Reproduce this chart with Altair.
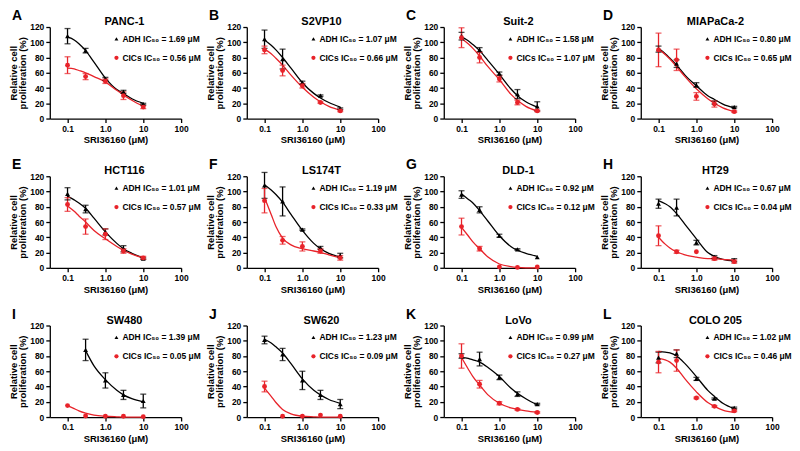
import math
import altair as alt
import pandas as pd

FONT = "Liberation Sans, Arial, sans-serif"
RED = "#e8232a"

DOSES = [0.1, 0.3, 1.0, 3.0, 10.0]
CURVE_X = [0.1, 0.15, 0.2, 0.3, 0.5, 1.0, 2.0, 3.0, 5.0, 10.0]
X_TICKS = [0.1, 1, 10, 100]
X_TICK_LABELS = ["0.1", "1.0", "10", "100"]
Y_TICKS = [0, 20, 40, 60, 80, 100, 120]

LETTERS = ["A", "B", "C", "D", "E", "F", "G", "H", "I", "J", "K", "L"]
CELL_LINES = ["PANC-1", "S2VP10", "Suit-2", "MIAPaCa-2", "HCT116", "LS174T",
              "DLD-1", "HT29", "SW480", "SW620", "LoVo", "COLO 205"]
ADH_IC50 = ["1.69", "1.07", "1.58", "0.80", "1.01", "1.19",
            "0.92", "0.67", "1.39", "1.23", "0.99", "1.02"]
CICS_IC50 = ["0.56", "0.66", "1.07", "0.65", "0.57", "0.33",
             "0.12", "0.04", "0.05", "0.09", "0.27", "0.46"]

# measured points at DOSES (mean, error)
ADH_MEAN = [
    [108, 89, 52, 35, 19], [104, 78, 47, 30, 13], [108, 90, 59, 32, 16], [91, 72, 44, 21, 15],
    [97, 77, 47, 25, 12], [108, 87, 50, 26, 16], [96, 76, 42, 24, 14], [84, 79, 33, 14, 10],
    [None, 88, 48, 29, 21], [101, 82, 48, 29, 17], [80, 76, 52, 30, 17], [78, 83, 50, 24, 12],
]
ADH_ERR = [
    [10, 3, 2, 2, 1], [12, 13, 2, 1, 1], [5, 3, 2, 6, 6], [4, 5, 3, 2, 1],
    [8, 5, 4, 4, 1], [17, 19, 1, 2, 3], [5, 4, 2, 1, 0], [6, 11, 3, 2, 2],
    [None, 14, 10, 6, 9], [5, 8, 12, 6, 6], [3, 9, 3, 3, 1], [7, 5, 2, 1, 1],
]
CICS_MEAN = [
    [70, 55, 49, 30, 15], [90, 63, 43, 21, 10], [106, 80, 52, 21, 10], [90, 77, 29, 19, 9],
    [83, 54, 44, 22, 13], [88, 36, 28, 22, 13], [54, 25, 1, 0.5, 1], [42, 21, 21, 12, 8],
    [15, 1.3, 1, 1, 0.5], [40, 1, 1, 2.5, 1], [80, 43, 18, 10, 6], [72, 74, 25, 14, 8],
]
CICS_ERR = [
    [11, 4, 3, 5, 2], [5, 7, 3, 1, 1], [13, 7, 4, 3, 1], [22, 14, 5, 4, 1],
    [9, 10, 7, 3, 2], [16, 5, 6, 3, 3], [11, 3, 0, 0, 0], [13, 2, 0, 2, 2],
    [0, 0, 0, 0, 0], [7, 0, 0, 0, 0], [16, 5, 2, 1, 1], [14, 14, 1, 1, 1],
]

# fitted curves read at CURVE_X
ADH_FIT = [
    [107, 103, 98, 89, 74, 53, 38, 33, 26, 20],
    [103, 96, 90, 80, 66, 47, 33, 27, 21, 15],
    [107, 102, 97, 89, 76, 58, 39, 30, 22, 15],
    [92, 85, 79, 70, 57, 43, 30, 25, 19, 14],
    [94, 89, 85, 78, 65, 47, 32, 25, 19, 13],
    [109, 102, 96, 86, 70, 49, 32, 25, 19, 14],
    [97, 90, 85, 75, 61, 42, 28, 23, 19, 15],
    [88, 84, 80, 71, 57, 38, 20, 15, 11, 9],
    [None, None, None, 87, 67, 49, 35, 29, 24, 20],
    [102, 97, 92, 84, 70, 50, 35, 29, 23, 18],
    [78, 77, 75, 72, 65, 53, 38, 31, 24, 16],
    [86, 85, 84, 80, 70, 53, 35, 27, 18, 11],
]
CICS_FIT = [
    [66, 65, 63, 60, 55, 48, 37, 31, 24, 16],
    [91, 85, 79, 70, 57, 41, 28, 22, 16, 11],
    [105, 98, 92, 82, 68, 51, 32, 24, 16, 10],
    [91, 84, 78, 68, 55, 39, 26, 20, 14, 9],
    [81, 74, 68, 60, 49, 38, 28, 23, 18, 13],
    [92, 70, 54, 39, 30, 25, 22, 20, 17, 13],
    [53, 42, 34, 25, 14, 5, 1.5, 0.5, 0, 0],
    [40, 31, 26, 21, 17, 14, 12, 12, 11, 10],
    [15, 11, 8, 5, 2.5, 1, 0.3, 0, 0, 0],
    [38, 27, 19, 10, 4, 1, 0.3, 0, 0, 0],
    [78, 63, 53, 42, 29, 18, 12, 10, 8, 6],
    [77, 75, 72, 64, 50, 33, 19, 14, 9, 6],
]

SERIES = ["ADH", "CICs"]
COLORS = ["#000000", RED]
SHAPES = ["triangle-up", "circle"]

# label expression for x ticks built from the tick lists
expr = "'" + X_TICK_LABELS[-1] + "'"
for k in range(len(X_TICKS) - 2, -1, -1):
    thr = math.sqrt(X_TICKS[k] * X_TICKS[k + 1])
    expr = f"datum.value < {thr} ? '{X_TICK_LABELS[k]}' : ({expr})"

W, H = 132, 92
xscale = alt.Scale(type="log", domain=[0.034, 100])
yscale = alt.Scale(domain=[0, 120])
cscale = alt.Scale(domain=SERIES, range=COLORS)
sscale = alt.Scale(domain=SERIES, range=SHAPES)
xaxis = alt.Axis(values=X_TICKS, labelExpr=expr, title="SRI36160 (μM)",
                 labelFlush=False, labelOverlap=False)
yaxis = alt.Axis(values=Y_TICKS, title=["Relative cell", "proliferation (%)"])


def make_panel(i):
    rows, fits = [], []
    for s, means, errs, fit in (("ADH", ADH_MEAN[i], ADH_ERR[i], ADH_FIT[i]),
                                ("CICs", CICS_MEAN[i], CICS_ERR[i], CICS_FIT[i])):
        for d, m, e in zip(DOSES, means, errs):
            if m is None:
                continue
            rows.append(dict(dose=d, value=m, lo=max(m - e, 0), hi=m + e, err=e, series=s))
        for cx, cy in zip(CURVE_X, fit):
            if cy is None:
                continue
            fits.append(dict(dose=cx, value=cy, series=s))
    pts = pd.DataFrame(rows)
    errs = pts[pts["err"] > 0]
    crv = pd.DataFrame(fits)
    lab = pd.DataFrame([dict(letter=LETTERS[i], title=CELL_LINES[i],
                             adh=f"ADH IC₅₀ = {ADH_IC50[i]} μM",
                             cics=f"CICs IC₅₀ = {CICS_IC50[i]} μM")])

    X = alt.X("dose:Q", scale=xscale, axis=xaxis)
    Y = alt.Y("value:Q", scale=yscale, axis=yaxis)
    C = alt.Color("series:N", scale=cscale, legend=None)

    lines = alt.Chart(crv).mark_line(strokeWidth=1.3, interpolate="monotone").encode(
        x=X, y=Y, color=C, detail="series:N")
    rules = alt.Chart(errs).mark_rule(strokeWidth=1.3).encode(
        x=X, y=alt.Y("lo:Q", scale=yscale, axis=yaxis), y2="hi:Q", color=C)
    cap_lo = alt.Chart(errs).mark_tick(orient="horizontal", size=6, thickness=1.3).encode(
        x=X, y=alt.Y("lo:Q", scale=yscale, axis=yaxis), color=C)
    cap_hi = alt.Chart(errs).mark_tick(orient="horizontal", size=6, thickness=1.3).encode(
        x=X, y=alt.Y("hi:Q", scale=yscale, axis=yaxis), color=C)
    points = alt.Chart(pts).mark_point(filled=True, size=24, opacity=1).encode(
        x=X, y=Y, color=C,
        shape=alt.Shape("series:N", scale=sscale, legend=None))

    base = alt.Chart(lab)
    letter = base.mark_text(align="left", baseline="alphabetic", fontSize=14,
                            fontWeight="bold", font=FONT, color="black").encode(
        text="letter:N", x=alt.value(-38), y=alt.value(-7))
    title = base.mark_text(align="center", baseline="alphabetic", fontSize=11,
                           fontWeight="bold", font=FONT, color="black").encode(
        text="title:N", x=alt.value(75), y=alt.value(-2))
    sym1 = base.mark_point(shape="triangle-up", filled=True, size=15, color="black",
                           opacity=1).encode(x=alt.value(67), y=alt.value(12))
    sym2 = base.mark_point(shape="circle", filled=True, size=18, color=RED,
                           opacity=1).encode(x=alt.value(67), y=alt.value(31))
    t1 = base.mark_text(align="left", baseline="middle", fontSize=8.5, fontWeight="bold",
                        font=FONT, color="black").encode(
        text="adh:N", x=alt.value(73), y=alt.value(12))
    t2 = base.mark_text(align="left", baseline="middle", fontSize=8.5, fontWeight="bold",
                        font=FONT, color="black").encode(
        text="cics:N", x=alt.value(73), y=alt.value(31))

    return alt.layer(lines, rules, cap_lo, cap_hi, points,
                     letter, title, sym1, sym2, t1, t2).properties(width=W, height=H)


panels = [make_panel(i) for i in range(12)]

chart = alt.concat(*panels, columns=4, spacing={"row": 58, "column": 66},
                   bounds="flush").properties(padding=0).configure_axis(
    domainColor="black", domainWidth=1.3, tickColor="black", tickWidth=1.3, tickSize=4,
    labelFont=FONT, labelFontSize=8.5, labelFontWeight="bold", labelColor="black",
    labelPadding=2, titleFont=FONT, titleFontSize=9.5, titleFontWeight="bold",
    titleColor="black", grid=False,
).configure_axisY(titlePadding=2, titleLineHeight=9.5).configure_axisX(
    titlePadding=2).configure_view(stroke=None)

chart.save("out.html", embed_options={"renderer": "svg", "actions": False})
